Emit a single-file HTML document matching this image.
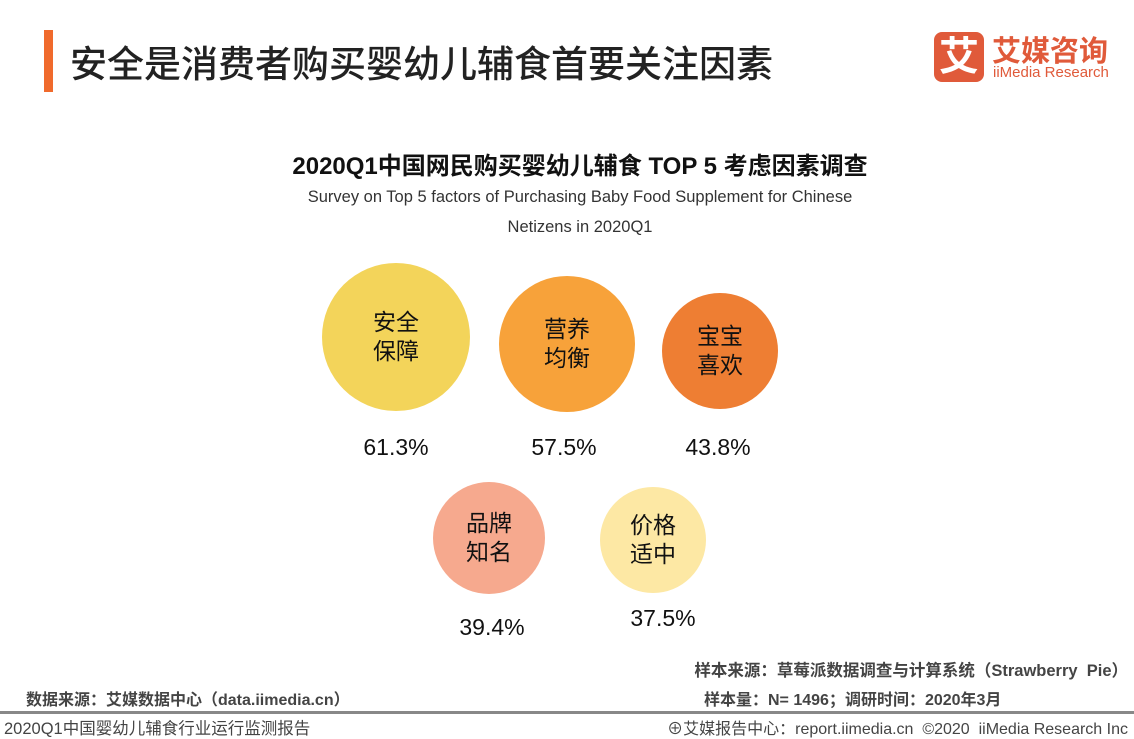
<!DOCTYPE html>
<html><head><meta charset="utf-8"><style>
body{margin:0;width:1134px;height:737px;background:#fff;position:relative;overflow:hidden;font-family:"Liberation Sans","Noto Sans CJK SC",sans-serif;color:#111}
.a{position:absolute;white-space:nowrap}
.c{position:absolute;border-radius:50%;display:flex;align-items:center;justify-content:center;text-align:center;font-size:23px;line-height:29px;color:#111}
.p{position:absolute;font-size:23px;width:120px;text-align:center}
.f{font-size:16px;color:#444}
</style></head><body>
<div class="a" style="left:44px;top:30px;width:9px;height:62px;background:#F06A2C"></div>
<div class="a" style="left:70px;top:34px;font-size:37px;font-weight:500;color:#222">安全是消费者购买婴幼儿辅食首要关注因素</div>
<div class="a" style="left:934px;top:32px;width:50px;height:50px;background:#E05A3A;border-radius:8px;color:#fff;font-size:40px;line-height:50px;text-align:center;font-weight:bold">艾</div>
<div class="a" style="left:992px;top:28px;font-size:29px;font-weight:bold;color:#E05A3A">艾媒咨询</div>
<div class="a" style="left:993px;top:64px;font-size:15px;color:#E05A3A">iiMedia Research</div>
<div class="a" style="left:0;width:1160px;top:146px;text-align:center;font-size:24px;font-weight:bold">2020Q1中国网民购买婴幼儿辅食 TOP 5 考虑因素调查</div>
<div class="a" style="left:0;width:1160px;top:188px;text-align:center;font-size:16.5px;color:#333">Survey on Top 5 factors of Purchasing Baby Food Supplement for Chinese</div>
<div class="a" style="left:0;width:1160px;top:218px;text-align:center;font-size:16.5px;color:#333">Netizens in 2020Q1</div>
<div class="c" style="left:322px;top:263px;width:148px;height:148px;background:#F3D45A">安全<br>保障</div>
<div class="c" style="left:499px;top:276px;width:136px;height:136px;background:#F7A23A">营养<br>均衡</div>
<div class="c" style="left:662px;top:293px;width:116px;height:116px;background:#EE7E33">宝宝<br>喜欢</div>
<div class="c" style="left:433px;top:482px;width:112px;height:112px;background:#F6A98E">品牌<br>知名</div>
<div class="c" style="left:600px;top:487px;width:106px;height:106px;background:#FDE8A4">价格<br>适中</div>
<div class="p" style="left:336px;top:434px">61.3%</div>
<div class="p" style="left:504px;top:434px">57.5%</div>
<div class="p" style="left:658px;top:434px">43.8%</div>
<div class="p" style="left:432px;top:614px">39.4%</div>
<div class="p" style="left:603px;top:605px">37.5%</div>
<div class="a f" style="right:6px;top:657px;font-weight:bold;font-size:16.5px">样本来源：草莓派数据调查与计算系统（Strawberry &nbsp;Pie）</div>
<div class="a f" style="left:704px;top:686px;font-weight:bold">样本量：N= 1496；调研时间：2020年3月</div>
<div class="a f" style="left:26px;top:686px;font-weight:bold">数据来源：艾媒数据中心（data.iimedia.cn）</div>
<div class="a" style="left:0;top:711px;width:1134px;height:3px;background:#888"></div>
<div class="a f" style="left:4px;top:715px;font-size:16.5px">2020Q1中国婴幼儿辅食行业运行监测报告</div>
<div class="a f" style="right:6px;top:715px">⊕艾媒报告中心：report.iimedia.cn &nbsp;©2020 &nbsp;iiMedia Research Inc</div>
</body></html>
